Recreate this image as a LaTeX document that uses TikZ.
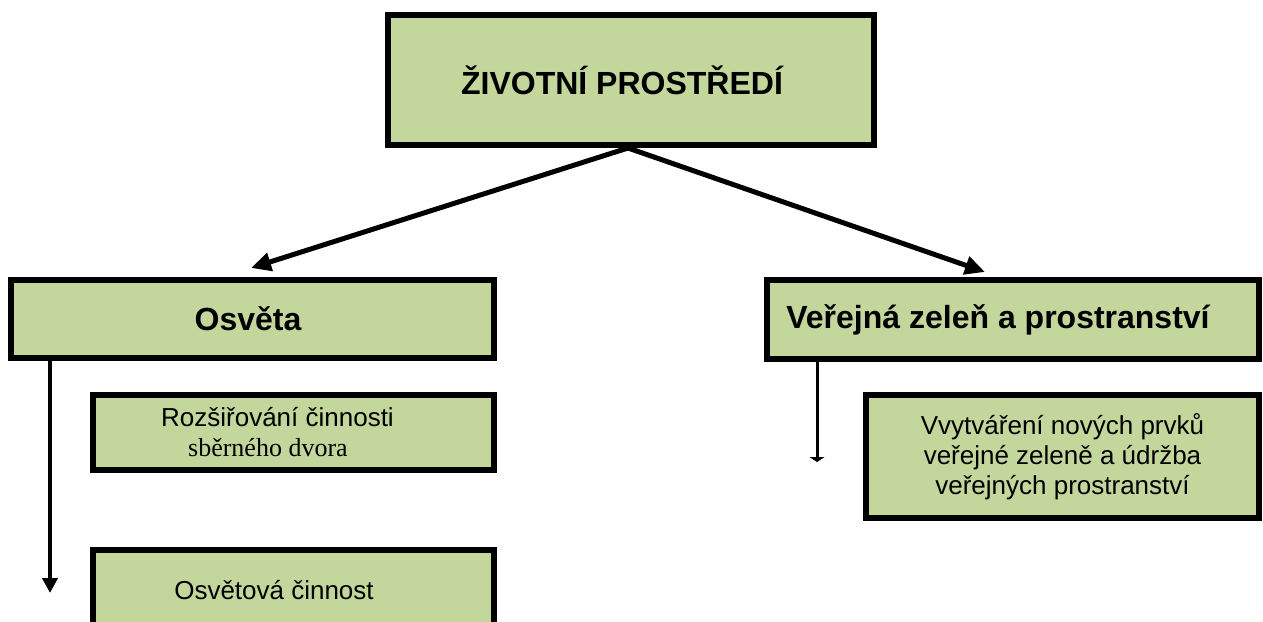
\documentclass[tikz,border=0pt]{standalone}
\usepackage{fontspec}
\setmainfont{Liberation Sans}
\newfontfamily\timesfont{Liberation Serif}
\usetikzlibrary{positioning}
\usetikzlibrary{arrows.meta}
\definecolor{boxgreen}{RGB}{195,214,155}
\tikzset{box/.style={draw,fill=boxgreen,line width=6pt,inner sep=0pt}}
\tikzset{head/.style={box,font=\bfseries\fontsize{32}{38}\selectfont}}
\tikzset{item/.style={box,font=\fontsize{26}{30}\selectfont,align=center}}
\tikzset{link/.style={line width=5pt,-{Triangle[length=20pt,width=18pt]}}}
\tikzset{drop/.style={line width=4pt,-{Triangle[length=15pt,width=15pt]}}}

\begin{document}
\begin{tikzpicture}[x=1pt,y=-1pt]
        \useasboundingbox (0,0) rectangle (1263,621);
        % main topic
        \node[head, minimum width=486pt, minimum height=130pt] (Env) at (631,80) {ŽIVOTNÍ PROSTŘEDÍ\hspace*{18pt}};
        % two branches
        \node[head, minimum width=483pt, minimum height=78pt] (Osveta) at (252.5,319) {Osvěta\hspace*{9pt}};
        \node[head, minimum width=492pt, minimum height=79pt] (Zelen) at (1013,319.5) {Veřejná zeleň a prostranství\hspace*{30pt}};
        % items under the branches
        \node[item, align=left, minimum width=401pt, minimum height=75pt] (Dvur) at (293.5,432.5) {Rozšiřování činnosti\hspace*{32pt}\\\hspace*{27pt}{\timesfont sběrného dvora}};
        \node[item, minimum width=401pt, minimum height=80pt] (Cinnost) at (293.5,590) {Osvětová činnost\hspace*{39pt}};
        \node[item, minimum width=393pt, minimum height=123pt] (Prvky) at (1062.5,456.5) {Vvytváření nových prvků\\veřejné zeleně a údržba\\ veřejných prostranství};
        % free ends of the connectors
        \coordinate (tipL) at (251,268);
        \coordinate (tipR) at (985,272);
        \coordinate (endL) at (50,593);
        \coordinate (endR) at (817,462);
        \draw[link] ([xshift=-3pt]Env.south) -- (tipL);
        \draw[link] ([xshift=-3pt]Env.south) -- (tipR);
        \draw[drop] (Osveta.south -| endL) -- (endL);
        \draw[line width=3pt,-{Triangle[length=5pt,width=15pt]}] (Zelen.south -| endR) -- (endR);
\end{tikzpicture}
\end{document}
